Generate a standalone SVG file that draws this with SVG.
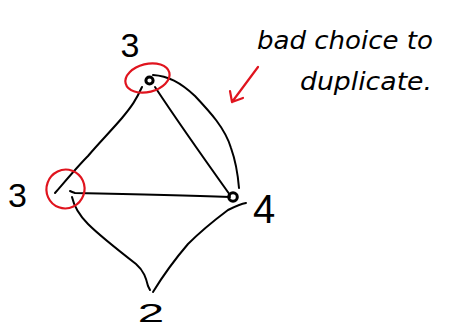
<svg xmlns="http://www.w3.org/2000/svg" width="454" height="327" viewBox="0 0 454 327">
<style>
.e{fill:none;stroke:#000;stroke-width:2;stroke-linecap:round;stroke-linejoin:round}
.r{fill:none;stroke:#e0141e;stroke-width:2.2;stroke-linecap:round;stroke-linejoin:round}
.n{fill:none;stroke:#000;stroke-width:3}
.t{font-family:"Liberation Sans","DejaVu Sans",sans-serif;fill:#000;text-anchor:middle}
.h{font-family:"DejaVu Sans","Liberation Sans",sans-serif;font-style:italic;fill:#000}
</style>
<rect width="454" height="327" fill="#fff"/>
<g id="connectors">
<path class="e" d="M142,87 C136,100 132,106 122,118 C110,132 98,144 88,156 C78,166 68,178 55,193"/>
<path class="e" d="M155,87 C180,125 205,160 230,195"/>
<path class="e" d="M153,75 C168,76 180,82 195,96 C210,112 225,128 231,148 C236,162 238,176 239,188"/>
<path class="e" d="M70,191 Q72,192 75,193 C130,194 180,195 230,197"/>
<path class="e" d="M72,197 C74,206 78,214 88,224 C100,236 118,250 136,264 C144,271 146,278 148,286 L150,290"/>
<path class="e" d="M246,203 C240,204 236,206 228,210 C212,222 200,232 188,244 C176,258 164,274 153,292"/>
</g>
<g id="node-top">
<circle class="n" cx="149.5" cy="80.5" r="3.6"/>
<ellipse class="r" cx="147.5" cy="78" rx="22.5" ry="14" transform="rotate(-14 147.5 78)"/>
<text class="t" x="130" y="57" font-size="34">3</text>
</g>
<g id="node-left">
<ellipse class="r" cx="65.5" cy="189" rx="19" ry="19.5" transform="rotate(20 65.5 189)"/>
<text class="t" x="17.5" y="207" font-size="34">3</text>
</g>
<g id="node-right">
<circle class="n" cx="233" cy="197" r="4.3"/>
<text class="t" x="264" y="223" font-size="40">4</text>
</g>
<g id="node-bottom">
<text class="t" x="0" y="0" font-size="25" transform="translate(151 322) scale(1.9 1)">2</text>
</g>
<g id="annotation">
<text class="h" x="257" y="49" font-size="24" textLength="176" lengthAdjust="spacingAndGlyphs">bad choice to</text>
<text class="h" x="300" y="90" font-size="24" textLength="132" lengthAdjust="spacingAndGlyphs">duplicate.</text>
<path class="r" d="M258,67 L232,102 M230,91 L232,102 L243,98"/>
</g>
</svg>
